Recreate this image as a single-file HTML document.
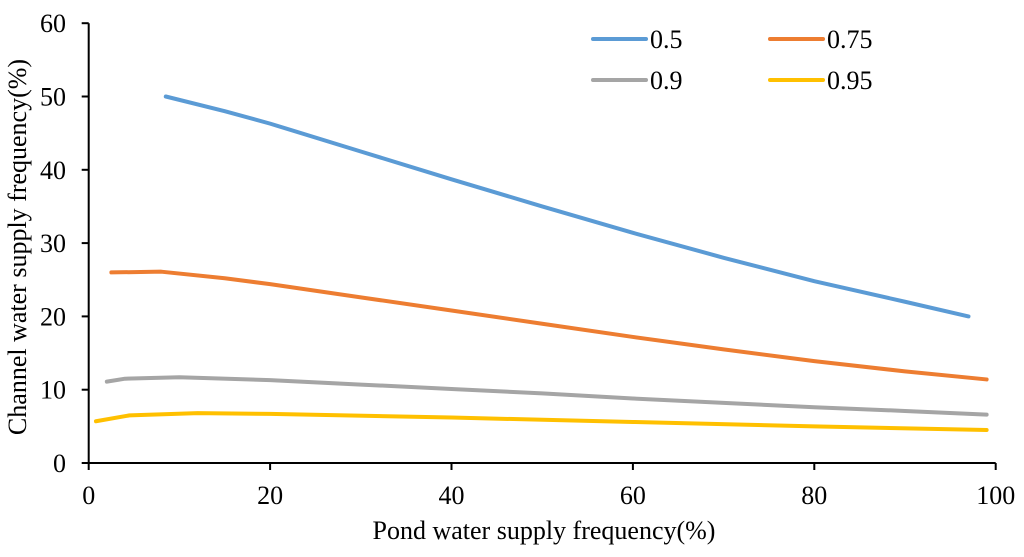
<!DOCTYPE html>
<html><head><meta charset="utf-8"><style>
body{margin:0;background:#fff}
svg{display:block;font-family:"Liberation Serif",serif}
</style></head><body>
<svg id="chart" width="1024" height="557">
<g id="axes"></g><g id="series"></g><g id="legend"></g>
<text x="544" y="539" font-size="26" text-anchor="middle">Pond water supply frequency(%)</text>
<text transform="translate(26,247) rotate(-90)" font-size="26" text-anchor="middle">Channel water supply frequency(%)</text>
</svg>
<script>
const xTicks=[0,20,40,60,80,100];
const yTicks=[0,10,20,30,40,50,60];
const seriesNames=["0.5","0.75","0.9","0.95"];
const seriesColors=["#5b9bd5","#ed7d31","#a5a5a5","#ffc000"];
const xs05=[8.5,15,20,30,40,50,60,70,80,90,97];
const ys05=[50,48,46.3,42.5,38.7,35,31.4,28,24.8,22,20];
const xs075=[2.5,8,15,20,30,40,50,60,70,80,90,99];
const ys075=[26,26.1,25.2,24.4,22.6,20.8,19,17.2,15.5,13.9,12.5,11.4];
const xs09=[2,4,10,20,30,40,50,60,70,80,90,99];
const ys09=[11.1,11.5,11.7,11.3,10.7,10.1,9.5,8.8,8.2,7.6,7.1,6.6];
const xs095=[0.8,4.5,12,20,40,60,80,99];
const ys095=[5.7,6.5,6.8,6.7,6.2,5.6,5.0,4.5];
const NS="http://www.w3.org/2000/svg";
const X=v=>88.7+v*9.07, Y=v=>463-v*7.33;
function mk(t,a,p){const e=document.createElementNS(NS,t);for(const k in a)e.setAttribute(k,a[k]);p.appendChild(e);return e;}
const ax=document.getElementById('axes');
let e=mk('line',{x1:X(0),y1:Y(0),x2:X(100),y2:Y(0),stroke:'#000','stroke-width':2},ax);

e=mk('line',{x1:X(0),y1:Y(0),x2:X(0),y2:Y(60),stroke:'#000','stroke-width':2},ax);

xTicks.forEach(t=>{mk('line',{x1:X(t),y1:Y(0),x2:X(t),y2:Y(0)+7,stroke:'#000','stroke-width':2},ax);
 const tx=mk('text',{x:X(t),y:504,'font-size':26,'text-anchor':'middle'},ax);tx.textContent=t;
 });
yTicks.forEach(t=>{mk('line',{x1:X(0)-7,y1:Y(t),x2:X(0),y2:Y(t),stroke:'#000','stroke-width':2},ax);
 const tx=mk('text',{x:66,y:Y(t)+9,'font-size':26,'text-anchor':'end'},ax);tx.textContent=t;
 });
const data=[[xs05,ys05],[xs075,ys075],[xs09,ys09],[xs095,ys095]];
const sg=document.getElementById('series');
data.forEach((d,i)=>{const pts=d[0].map((x,j)=>X(x)+','+Y(d[1][j])).join(' ');
 const p=mk('polyline',{points:pts,fill:'none',stroke:seriesColors[i],'stroke-width':4,'stroke-linejoin':'round','stroke-linecap':'round'},sg);
 });
const lg=document.getElementById('legend');
const lpos=[[592,39],[769,39],[592,80],[769,80]];
seriesNames.forEach((n,i)=>{const [x,y]=lpos[i];
 const g=mk('g',{},lg);
 mk('line',{x1:x+1,y1:y,x2:x+54,y2:y,stroke:seriesColors[i],'stroke-width':4,'stroke-linecap':'round'},g);
 const t=mk('text',{x:x+58,y:y+9,'font-size':26},g);t.textContent=n;});
</script>
</body></html>
